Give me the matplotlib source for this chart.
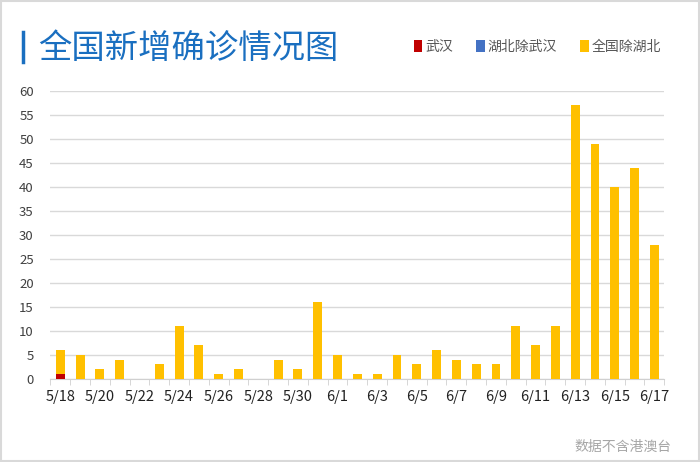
import matplotlib.pyplot as plt
import numpy as np
from matplotlib.patches import Rectangle

plt.rcParams['font.family'] = ['Noto Sans CJK SC', 'DejaVu Sans']

dates = ['5/18', '5/19', '5/20', '5/21', '5/22', '5/23', '5/24', '5/25', '5/26', '5/27',
         '5/28', '5/29', '5/30', '5/31', '6/1', '6/2', '6/3', '6/4', '6/5', '6/6',
         '6/7', '6/8', '6/9', '6/10', '6/11', '6/12', '6/13', '6/14', '6/15', '6/16', '6/17']
wuhan = [1, 0, 0, 0, 0, 0, 0, 0, 0, 0, 0, 0, 0, 0, 0, 0, 0, 0, 0, 0,
         0, 0, 0, 0, 0, 0, 0, 0, 0, 0, 0]
hubei_ex_wuhan = [0] * 31
national_ex_hubei = [5, 5, 2, 4, 0, 3, 11, 7, 1, 2, 0, 4, 2, 16, 5, 1, 1, 5, 3, 6,
                     4, 3, 3, 11, 7, 11, 57, 49, 40, 44, 28]

fig = plt.figure(figsize=(7, 4.62), dpi=100)
fig.patches.append(Rectangle((0.002, 0.003), 0.996, 0.994, transform=fig.transFigure,
                             fill=False, edgecolor='#d9d9d9', linewidth=1.5))

ax = fig.add_axes([0.072, 0.18, 0.877, 0.623])
x = np.arange(len(dates))
w = 0.45
ax.bar(x, wuhan, w, color='#c00000', label='武汉', zorder=3)
ax.bar(x, hubei_ex_wuhan, w, bottom=wuhan, color='#4472c4', label='湖北除武汉', zorder=3)
base = np.array(wuhan) + np.array(hubei_ex_wuhan)
ax.bar(x, national_ex_hubei, w, bottom=base, color='#ffc000', label='全国除湖北', zorder=3)

ax.set_xlim(-0.5, len(dates) - 0.5)
ax.set_ylim(0, 60)
ax.set_yticks(range(0, 61, 5))
ax.set_xticks(x[::2])
ax.set_xticklabels(dates[::2])
ax.set_xticks(np.arange(-0.5, len(dates), 1), minor=True)
ax.tick_params(axis='x', which='major', length=0, pad=8, labelsize=10.5, colors='#222222')
ax.tick_params(axis='x', which='minor', length=4, color='#d0d0d0', direction='out')
ax.tick_params(axis='y', length=0, pad=12, labelsize=9.5, colors='#404040')
ax.grid(axis='y', color='#d9d9d9', linewidth=1, zorder=0)
for s in ['top', 'right', 'left']:
    ax.spines[s].set_visible(False)
ax.spines['bottom'].set_color('#d0d0d0')

# thin accent bar before the title
fig.add_artist(plt.Line2D([0.033, 0.033], [0.865, 0.93], transform=fig.transFigure,
                          color='#1a6fc0', linewidth=2.5))
fig.text(0.055, 0.896, '全国新增确诊情况图', fontsize=24, color='#1a6fc0', va='center')
fig.legend(loc='center right', bbox_to_anchor=(0.962, 0.899), ncol=3, frameon=False,
           fontsize=10, handlelength=0.6, handleheight=0.9, handletextpad=0.2,
           columnspacing=1.7, labelcolor='#555555')
fig.text(0.96, 0.033, '数据不含港澳台', fontsize=10, color='#a6a6a6', ha='right', va='center')

fig.savefig('out.png', dpi=100)
